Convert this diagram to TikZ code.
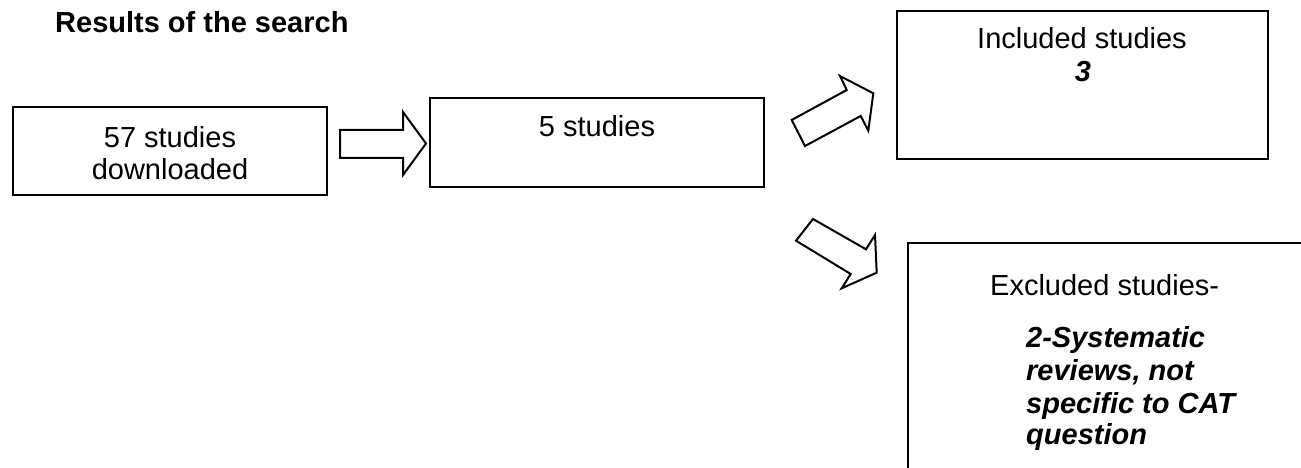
\documentclass[tikz,border=0pt]{standalone}
\usepackage{fontspec}
\setmainfont{Liberation Sans}
\begin{document}
\begin{tikzpicture}[x=1pt,y=-1pt,
  box/.style={draw=black,line width=2pt,fill=none,inner sep=0pt},
  txt/.style={inner sep=0pt,font=\fontsize{29}{33}\selectfont},
  btxt/.style={inner sep=0pt,font=\fontsize{29}{33}\selectfont\bfseries},
  bitxt/.style={inner sep=0pt,font=\fontsize{29}{33}\selectfont\bfseries\itshape},
  blockarrow/.style={draw=black,line width=2pt,fill=white,line join=miter}]
\useasboundingbox (0,0) rectangle (1301,468);
% title
\node[btxt,anchor=base west] (title) at (55,33) {Results of the search};
% boxes
\node[box,minimum width=314pt,minimum height=88pt] (dl) at (170,151) {};
\node[txt,anchor=base] (dlt1) at (170,147) {57 studies};
\node[txt,anchor=base] (dlt2) at (170,179) {downloaded};
\node[box,minimum width=334pt,minimum height=89pt] (five) at (597,142.5) {};
\node[txt,anchor=base] (fivet) at (597,137) {5 studies};
\node[box,minimum width=371pt,minimum height=148pt] (inc) at (1082.5,85) {};
\node[txt,anchor=base] (inct1) at (1082,49) {Included studies};
\node[bitxt,anchor=base] (inct2) at (1083,82) {3};
\draw[line width=2pt] (1310,243) -- (908,243) -- (908,475);
\node[txt,anchor=base west] (exct1) at (990,295) {Excluded studies-};
\node[bitxt,anchor=base west] (exct2) at (1026,347) {2-Systematic};
\node[bitxt,anchor=base west] (exct3) at (1026,380) {reviews, not};
\node[bitxt,anchor=base west] (exct4) at (1026,413) {specific to CAT};
\node[bitxt,anchor=base west] (exct5) at (1026,444) {question};
% block arrows
\draw[blockarrow] (340,130) -- (403,130) -- (403,112) -- (426,143.5) -- (403,175) -- (403,158) -- (340,158) -- cycle;
\draw[blockarrow] (791.7,120) -- (846.7,90) -- (840,76) -- (873.3,93.3) -- (868.3,130.7) -- (860.7,116) -- (805,146) -- cycle;
\draw[blockarrow] (813,219) -- (866,249.3) -- (875,235) -- (876.7,272.7) -- (841.7,288.3) -- (850.7,274) -- (796,240.7) -- cycle;
\end{tikzpicture}
\end{document}
